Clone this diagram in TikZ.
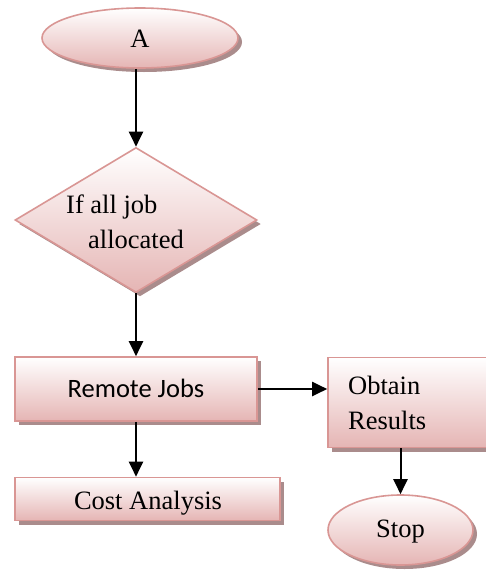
\documentclass[tikz,border=0pt]{standalone}
\usepackage{fontspec}
\setmainfont{Liberation Serif}
\newfontfamily\calibrifont{Carlito}
\usetikzlibrary{shapes.geometric,arrows.meta,shadows}
\definecolor{pinkborder}{RGB}{217,150,148}
\definecolor{pinkfill}{RGB}{229,181,180}
\definecolor{shadowcol}{RGB}{170,140,140}
\tikzset{
  box/.style={draw=pinkborder,line width=1.6pt,top color=white,bottom color=pinkfill,
    drop shadow={shadow xshift=4pt,shadow yshift=-4pt,fill=shadowcol,opacity=1},
    inner sep=0pt},
  rbox/.style={box,rectangle},
  ebox/.style={box,ellipse},
  dbox/.style={box,diamond},
  txt/.style={font=\fontsize{26.5}{35}\selectfont,inner sep=0pt},
  arr/.style={line width=2pt,-{Triangle[length=15pt,width=14pt]}}
}
\begin{document}
\begin{tikzpicture}[x=1pt,y=-1pt]
\useasboundingbox (0,0) rectangle (486,571);
\node[ebox,minimum width=196pt,minimum height=60pt] (A) at (140,38) {};
\node[txt] (At) at (140,39) {A};
\node[dbox,minimum width=242pt,minimum height=145pt] (d) at (136,220) {};
\node[txt,align=left,anchor=west] (dt) at (66,222) {If all job\\\hspace*{22pt}allocated};
\node[rbox,minimum width=242pt,minimum height=64pt] (rj) at (136,389) {};
\node[txt,font=\calibrifont\fontsize{26.5}{35}\selectfont] (rjt) at (136,388) {Remote Jobs};
\node[rbox,minimum width=265pt,minimum height=43pt] (ca) at (147.5,499) {};
\node[txt] (cat) at (148,503) {Cost Analysis};
\node[rbox,minimum width=180pt,minimum height=90pt] (ob) at (418,402.5) {};
\node[txt,align=left,anchor=west] (obt) at (348,403) {Obtain\\Results};
\node[ebox,minimum width=145pt,minimum height=70pt] (st) at (400.5,530) {};
\node[txt] (stt) at (400.5,532) {Stop};
\draw[arr] (d.north |- A.south) -- (d.north);
\draw[arr] (d.south) -- (rj.north);
\draw[arr] (rj.south) -- (rj.south |- ca.north);
\draw[arr] (rj.east) -- (rj.east -| ob.west);
\draw[arr] (st.north |- ob.south) -- (st.north);
\end{tikzpicture}
\end{document}
